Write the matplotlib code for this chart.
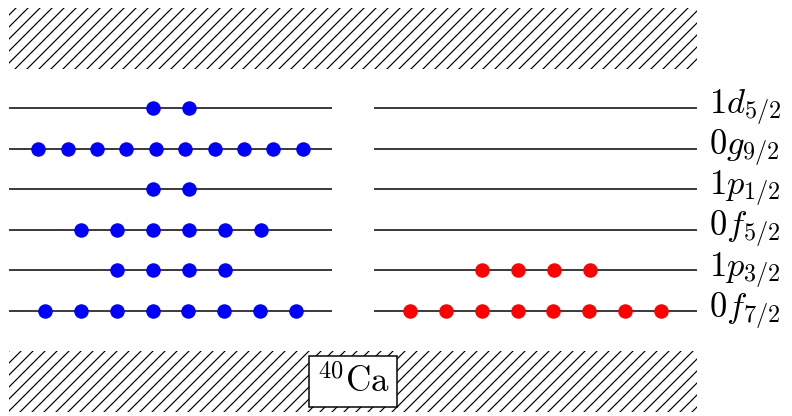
import matplotlib
matplotlib.use("Agg")
import matplotlib.pyplot as plt
from matplotlib.patches import Rectangle

plt.rcParams['mathtext.fontset'] = 'cm'
plt.rcParams['hatch.linewidth'] = 1.2

# Data
levels = [r'0f_{7/2}', r'1p_{3/2}', r'0f_{5/2}', r'1p_{1/2}', r'0g_{9/2}', r'1d_{5/2}']
neutrons = [8, 4, 6, 2, 10, 2]
protons = [8, 4, 0, 0, 0, 0]
core_label = r'$^{40}\mathrm{Ca}$'

DPI = 72
W, H = 792, 416
fig = plt.figure(figsize=(W / DPI, H / DPI), dpi=DPI)
ax = fig.add_axes([0, 0, 1, 1])
ax.set_axis_off()

# layout (x in pixel-like units, y in level index units)
px_per_level = 40.6
y0_px = 311
ax.set_xlim(0, W)
ax.set_ylim((y0_px - H) / px_per_level, y0_px / px_per_level)

left = (9, 332)
right = (374, 697)
max_sp = 36.0

def draw_column(xr, occ, color):
    x0, x1 = xr
    L = x1 - x0
    c = (x0 + x1) / 2
    for i, n in enumerate(occ):
        ax.plot([x0, x1], [i, i], color='black', lw=1.5, zorder=1, solid_capstyle='butt')
        if n > 0:
            sp = min(max_sp, L / (n + 1))
            xs = [c + (k - (n - 1) / 2) * sp for k in range(n)]
            ax.plot(xs, [i] * n, 'o', color=color, ms=14.5, zorder=2, mew=0)

draw_column(left, neutrons, '#0000ff')
draw_column(right, protons, '#ff0000')

for i, lab in enumerate(levels):
    ax.text(right[1] + 12, i, '$' + lab + '$', fontsize=34.5, va='center', ha='left')

def yv(px):
    return (y0_px - px) / px_per_level

# hatched regions
top = Rectangle((9, yv(69)), 697 - 9, yv(8) - yv(69), facecolor='none',
                edgecolor='black', lw=0, hatch='//', zorder=0)
bot = Rectangle((9, yv(412)), 697 - 9, yv(351) - yv(412), facecolor='none',
                edgecolor='black', lw=0, hatch='//', zorder=0)
ax.add_patch(top)
ax.add_patch(bot)

ax.text((9 + 697) / 2, (yv(351) + yv(412)) / 2, core_label, fontsize=35,
        ha='center', va='center',
        bbox=dict(boxstyle='square,pad=0.22', facecolor='white', edgecolor='black', lw=1.5))

fig.savefig('out.png', dpi=DPI)
